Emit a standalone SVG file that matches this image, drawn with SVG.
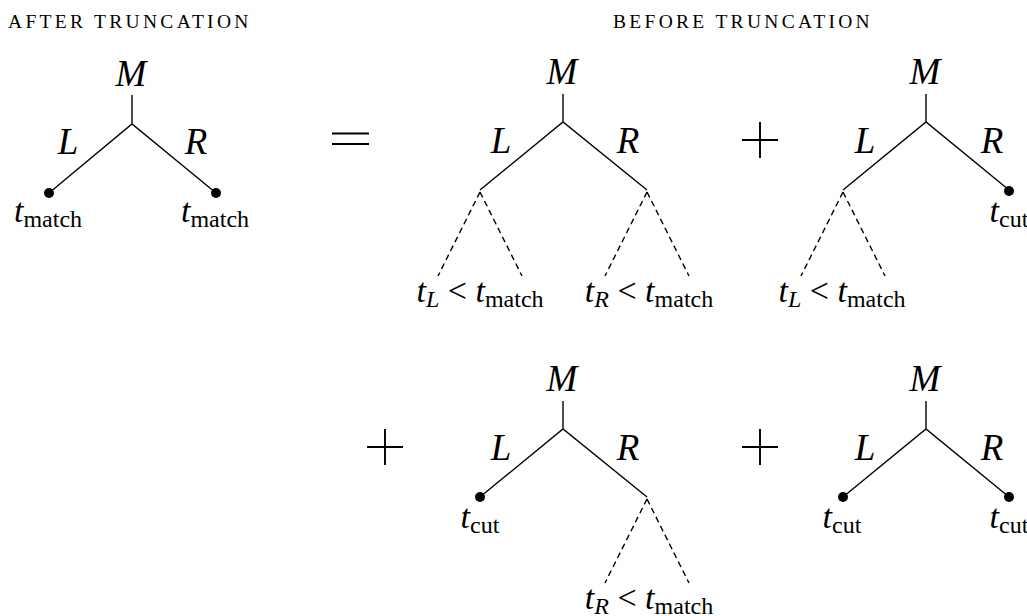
<svg xmlns="http://www.w3.org/2000/svg" width="1027" height="616" viewBox="0 0 1027 616">
<style>
  .title { font-family: "Liberation Serif", serif; font-size: 19.5px; letter-spacing: 3.3px; fill: #000; }
  .big { font-family: "Liberation Serif", serif; font-style: italic; font-size: 37px; fill: #000; text-anchor: middle; }
  .lbl { font-family: "Liberation Serif", serif; font-style: italic; font-size: 34px; fill: #000; text-anchor: middle; }
  .up { font-style: normal; }
  .sub { font-size: 24px; }
  .edge { stroke: #000; stroke-width: 1.4; fill: none; stroke-linecap: butt; }
  .dash { stroke: #000; stroke-width: 1.4; fill: none; stroke-dasharray: 6 4; }
  .op { stroke: #000; stroke-width: 1.9; fill: none; }
  .dot { fill: #000; }
</style>
<rect width="1027" height="616" fill="#fff"/>

<text id="title-after" class="title" x="8" y="28">AFTER TRUNCATION</text>
<text id="title-before" class="title" x="613" y="28">BEFORE TRUNCATION</text>

<g id="connectors">
  <!-- tree 1 -->
  <path class="edge" d="M132 95 V124 M49 193 L132 124 L216 193"/>
  <!-- tree 2 -->
  <path class="edge" d="M563 94 V122 M480 190 L563 122 L647 190"/>
  <path class="dash" d="M480 192 L438 276 M480 192 L522 276 M647 192 L605 276 M647 192 L689 276"/>
  <!-- tree 3 -->
  <path class="edge" d="M926 94 V122 M843 190 L926 122 L1009 190"/>
  <path class="dash" d="M843 192 L801 276 M843 192 L885 276"/>
  <!-- tree 4 -->
  <path class="edge" d="M563 401 V429 M480 497 L563 429 L647 497"/>
  <path class="dash" d="M647 499 L605 583 M647 499 L689 583"/>
  <!-- tree 5 -->
  <path class="edge" d="M926 401 V429 M843 497 L926 429 L1009 497"/>
</g>

<g id="operators">
  <path id="equals" class="op" d="M332 133.5 H369 M332 144 H369"/>
  <path id="plus-1" class="op" d="M742 140 H778 M760 122 V158"/>
  <path id="plus-2" class="op" d="M367 447 H403 M385 429 V465"/>
  <path id="plus-3" class="op" d="M742 447 H778 M760 429 V465"/>
</g>

<g id="tree1">
  <text class="big" x="131" y="86">M</text>
  <text class="big" x="68" y="154">L</text>
  <text class="big" x="196" y="154">R</text>
  <circle class="dot" cx="49" cy="193" r="5"/>
  <circle class="dot" cx="216" cy="193" r="5"/>
  <text class="lbl" x="48" y="222">t<tspan class="up sub" dy="5">match</tspan></text>
  <text class="lbl" x="215" y="222">t<tspan class="up sub" dy="5">match</tspan></text>
</g>

<g id="tree2">
  <text class="big" x="562" y="84">M</text>
  <text class="big" x="501" y="153">L</text>
  <text class="big" x="628" y="153">R</text>
  <text class="lbl" x="480" y="302">t<tspan class="sub" dy="5">L</tspan><tspan class="up" dy="-5"> &lt; </tspan>t<tspan class="up sub" dy="5">match</tspan></text>
  <text class="lbl" x="649" y="302">t<tspan class="sub" dy="5">R</tspan><tspan class="up" dy="-5"> &lt; </tspan>t<tspan class="up sub" dy="5">match</tspan></text>
</g>

<g id="tree3">
  <text class="big" x="925" y="84">M</text>
  <text class="big" x="865" y="153">L</text>
  <text class="big" x="992" y="153">R</text>
  <circle class="dot" cx="1009" cy="191" r="5"/>
  <text class="lbl" x="1009" y="222">t<tspan class="up sub" dy="5">cut</tspan></text>
  <text class="lbl" x="842" y="302">t<tspan class="sub" dy="5">L</tspan><tspan class="up" dy="-5"> &lt; </tspan>t<tspan class="up sub" dy="5">match</tspan></text>
</g>

<g id="tree4">
  <text class="big" x="562" y="391">M</text>
  <text class="big" x="501" y="460">L</text>
  <text class="big" x="628" y="460">R</text>
  <circle class="dot" cx="480" cy="497" r="5"/>
  <text class="lbl" x="480" y="528">t<tspan class="up sub" dy="5">cut</tspan></text>
  <text class="lbl" x="649" y="609">t<tspan class="sub" dy="5">R</tspan><tspan class="up" dy="-5"> &lt; </tspan>t<tspan class="up sub" dy="5">match</tspan></text>
</g>

<g id="tree5">
  <text class="big" x="925" y="391">M</text>
  <text class="big" x="865" y="460">L</text>
  <text class="big" x="992" y="460">R</text>
  <circle class="dot" cx="843" cy="497" r="5"/>
  <circle class="dot" cx="1009" cy="497" r="5"/>
  <text class="lbl" x="842" y="528">t<tspan class="up sub" dy="5">cut</tspan></text>
  <text class="lbl" x="1009" y="528">t<tspan class="up sub" dy="5">cut</tspan></text>
</g>
</svg>
